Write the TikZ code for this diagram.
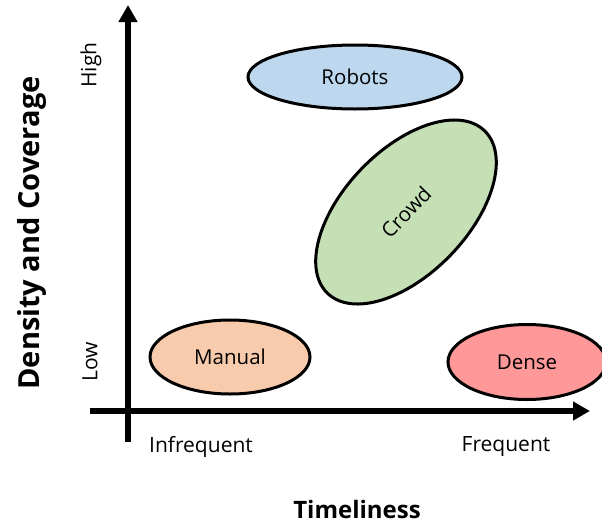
\documentclass[tikz,border=0pt]{standalone}
\usepackage{fontspec}
\setmainfont{Open Sans}
\usetikzlibrary{shapes.geometric,arrows.meta}
\definecolor{robotsfill}{HTML}{BDD7EE}
\definecolor{crowdfill}{HTML}{C5E0B4}
\definecolor{manualfill}{HTML}{F8CBAD}
\definecolor{densefill}{HTML}{FF9999}
\tikzset{
  blob/.style={ellipse, draw=black, line width=3pt, inner sep=0pt, font=\fontsize{20.5}{24}\selectfont},
  axis/.style={line width=6pt, -{Triangle[length=17pt,width=18pt]}},
  lbl/.style={font=\fontsize{21}{25}\selectfont, inner sep=0pt},
  ttl/.style={font=\bfseries\fontsize{24}{28}\selectfont, inner sep=0pt}
}
\begin{document}
\begin{tikzpicture}[x=1pt,y=-1pt]
\useasboundingbox (0,0) rectangle (602,525);
\clip (0,0) rectangle (602,525);
% axes
\coordinate (yb) at (128,442);
\coordinate (yt) at (128,5);
\coordinate (xl) at (90,411);
\coordinate (xr) at (590,411);
\draw[axis] (yb) -- (yt);
\draw[axis] (xl) -- (xr);
% ellipses
\node[blob, fill=robotsfill, minimum width=214pt, minimum height=64pt] (robots) at (355,77) {Robots};
\node[blob, fill=crowdfill, minimum width=226pt, minimum height=124pt, rotate=46] (crowd) at (406,212) {Crowd};
\node[blob, fill=manualfill, minimum width=160pt, minimum height=74pt] (manual) at (230,357) {Manual};
\node[blob, fill=densefill, minimum width=158pt, minimum height=75pt] (dense) at (527,362) {Dense};
% labels
\node[lbl] (infreq) at (201,447) {Infrequent};
\node[lbl] (freq) at (506,447) {Frequent};
\node[lbl, rotate=90] (low) at (90,362) {Low};
\node[lbl, rotate=90] (high) at (91,65) {High};
\node[ttl] (xtitle) at (357,509) {Timeliness};
\node[ttl, font=\bfseries\fontsize{29}{33}\selectfont, rotate=90] (ytitle) at (32,233) {Density and Coverage};
\end{tikzpicture}
\end{document}
